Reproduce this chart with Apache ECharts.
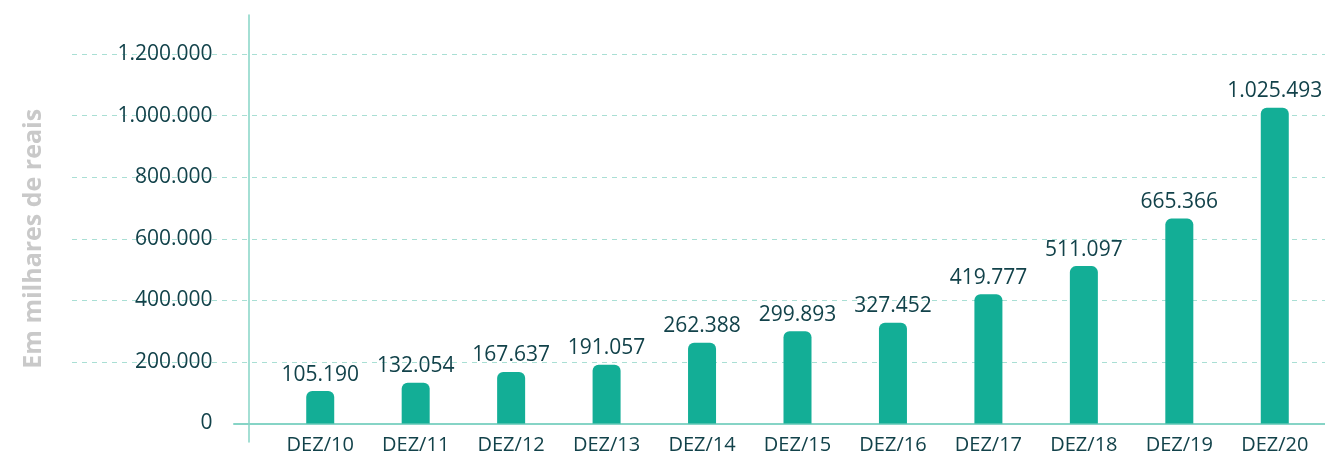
<!DOCTYPE html>
<html>
<head>
<meta charset="utf-8">
<script src="https://cdn.jsdelivr.net/npm/echarts@6/dist/echarts.min.js"></script>
<style>
    html, body { margin: 0; padding: 0; background: #fff; }
    #chart { width: 1325px; height: 456px; }
</style>
</head>
<body>
<div id="chart"></div>
<script>
var categories = ["DEZ/10", "DEZ/11", "DEZ/12", "DEZ/13", "DEZ/14", "DEZ/15", "DEZ/16", "DEZ/17", "DEZ/18", "DEZ/19", "DEZ/20"];
var values = [105190, 132054, 167637, 191057, 262388, 299893, 327452, 419777, 511097, 665366, 1025493];
var yTicks = [0, 200000, 400000, 600000, 800000, 1000000, 1200000];

var fmt = function (v) {
    return String(Math.round(v)).replace(/\B(?=(\d{3})+(?!\d))/g, ".");
};

var textColor = "#12424a";
var font = "'Open Sans', sans-serif";

var chart = echarts.init(document.getElementById("chart"));
var option = {
    backgroundColor: "#fff",
    animation: false,
    grid: [
        // bars
        { left: 272.5, right: 2.5, top: 54, bottom: 32.5 },
        // dashed grid lines
        { left: 72, right: 0, top: 54, bottom: 32.5 },
        // vertical axis line
        { left: 249, right: 0, top: 15, bottom: 14 },
        // horizontal axis line
        { left: 234, right: 0, top: 15, bottom: 32.5 }
    ],
    xAxis: [
        {
            gridIndex: 0,
            type: "category",
            data: categories,
            axisLine: { show: false },
            axisTick: { show: false },
            axisLabel: { color: textColor, fontSize: 20, fontFamily: font, margin: 12 }
        },
        { gridIndex: 1, type: "value", min: 0, max: 1, show: false },
        { gridIndex: 2, type: "value", min: 0, max: 1, show: false },
        {
            gridIndex: 3,
            type: "value",
            min: 0,
            max: 1,
            axisLine: { show: true, onZero: false, lineStyle: { color: "#86d4c6", width: 2 } },
            axisTick: { show: false },
            axisLabel: { show: false },
            splitLine: { show: false }
        }
    ],
    yAxis: [
        {
            gridIndex: 0,
            type: "value",
            min: yTicks[0],
            max: yTicks[yTicks.length - 1],
            interval: 200000,
            axisLine: { show: false },
            axisTick: { show: false },
            splitLine: { show: false },
            axisLabel: {
                color: textColor,
                fontSize: 21,
                fontFamily: font,
                margin: 60,
                formatter: fmt
            },
            name: "Em milhares de reais",
            nameLocation: "middle",
            nameGap: 226,
            nameTextStyle: { color: "#c9c9c9", fontSize: 25, fontWeight: "bold", fontFamily: font }
        },
        {
            gridIndex: 1,
            type: "value",
            min: yTicks[0],
            max: yTicks[yTicks.length - 1],
            interval: 200000,
            axisLine: { show: false },
            axisTick: { show: false },
            axisLabel: { show: false },
            splitLine: {
                show: true,
                showMinLine: false,
                lineStyle: { color: "#a9dfd4", type: [5, 5], width: 1 }
            }
        },
        {
            gridIndex: 2,
            type: "value",
            min: 0,
            max: 1,
            axisLine: { show: true, lineStyle: { color: "#86d4c6", width: 1.5 } },
            axisTick: { show: false },
            axisLabel: { show: false },
            splitLine: { show: false }
        },
        { gridIndex: 3, type: "value", min: 0, max: 1, show: false }
    ],
    series: [
        {
            type: "bar",
            xAxisIndex: 0,
            yAxisIndex: 0,
            data: values,
            barWidth: 28,
            z: 5,
            itemStyle: { color: "#13ae96", borderRadius: [6, 6, 0, 0] },
            label: {
                show: true,
                position: "top",
                distance: 6,
                color: textColor,
                fontSize: 21,
                fontFamily: font,
                formatter: function (p) { return fmt(p.value); }
            }
        }
    ]
};
chart.setOption(option);
</script>
</body>
</html>
